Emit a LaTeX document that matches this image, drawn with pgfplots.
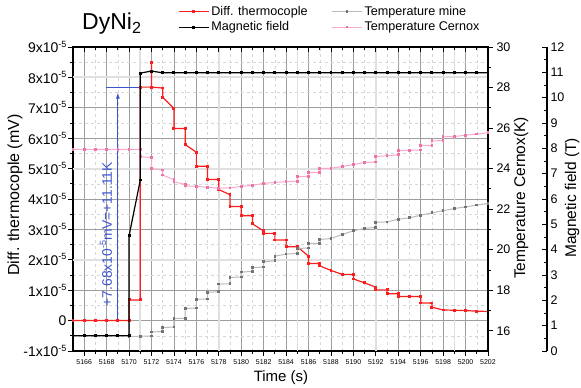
\documentclass[border=0pt]{standalone}
\usepackage{pgfplots}
\pgfplotsset{compat=1.18}
\usetikzlibrary{arrows.meta}
\usepackage{fontspec}
\setmainfont{Liberation Sans}
\definecolor{dred}{RGB}{250,30,30}
\definecolor{pinkl}{RGB}{247,170,203}
\definecolor{pinkm}{RGB}{238,115,168}
\definecolor{grayl}{RGB}{185,185,185}
\definecolor{graym}{RGB}{115,115,115}
\definecolor{annblue}{RGB}{60,85,205}
\newcommand\esup[1]{\raisebox{0.42em}{\fontsize{9}{9}\selectfont #1}}
\pgfplotsset{
  base/.style={scale only axis, width=415pt, height=304pt, xmin=5165, xmax=5202,
    /pgf/number format/assume math mode=true, /pgf/number format/1000 sep={},
    axis line style={line width=1.1pt},
    major tick length=5pt, minor tick length=3pt,
    every tick/.append style={black, line width=0.8pt},
  },
}
\begin{document}
\begin{tikzpicture}
% ---------- main axis (left scale, grid, red) ----------
\begin{axis}[base, ymin=-1, ymax=9,
  tick align=outside, xtick pos=left, ytick pos=left,
  xtick={5166,5168,...,5202}, minor x tick num=1,
  ytick={-1,0,...,9}, minor y tick num=1,
  yticklabels={{-1x10\esup{-5}},{0},{1x10\esup{-5}},{2x10\esup{-5}},{3x10\esup{-5}},{4x10\esup{-5}},{5x10\esup{-5}},{6x10\esup{-5}},{7x10\esup{-5}},{8x10\esup{-5}},{9x10\esup{-5}}},
  yticklabel style={font=\fontsize{14}{16}\selectfont, xshift=2pt},
  xticklabel style={font=\fontsize{7}{8}\selectfont},
  grid=both,
  major grid style={line width=0.6pt, black!38},
  minor grid style={line width=0.5pt, dashed, black!16},
  legend columns=2,
  legend style={draw=none, fill=none, at={(102pt,349pt)}, anchor=north west,
    font=\fontsize{12.6}{14}\selectfont, row sep=1pt,
    /tikz/every even column/.append style={column sep=22pt}},
  legend cell align=left,
  legend image code/.code={\draw[mark repeat=2,mark phase=2,#1] plot coordinates {(0pt,0pt)(15pt,0pt)(30pt,0pt)};},
]
\draw[black!12, line width=2pt] (axis cs:5165,2) -- (axis cs:5202,2);
\draw[black!12, line width=2pt] (axis cs:5165,5) -- (axis cs:5202,5);
\draw[black!12, line width=2pt] (axis cs:5165,8) -- (axis cs:5202,8);
\draw[black!12, line width=1.6pt] (axis cs:5171,-1) -- (axis cs:5171,9);
\draw[black!12, line width=1.6pt] (axis cs:5178,-1) -- (axis cs:5178,9);
\draw[black!12, line width=1.6pt] (axis cs:5185,-1) -- (axis cs:5185,9);
\draw[black!12, line width=1.6pt] (axis cs:5192,-1) -- (axis cs:5192,9);
\draw[black!12, line width=1.6pt] (axis cs:5199,-1) -- (axis cs:5199,9);
% annotation
\draw[annblue, line width=1pt] (axis cs:5167.9,7.68) -- (axis cs:5171,7.68);
\draw[annblue, line width=0.9pt, -{Latex[length=6pt,width=4pt]}] (axis cs:5169,0) -- (axis cs:5169,7.5);
\node[annblue, rotate=90, font=\fontsize{13.8}{15}\selectfont] at (axis cs:5167.94,2.84) {+7.68x10\esup{-5}mV=+11.11K};
\addplot[dred, line width=1.2pt, mark=square*, mark size=0.85pt, mark options={solid, fill=dred}] coordinates {
(5165,0) (5166,0) (5167,0) (5168,0) (5169,0) (5170,0) (5170,0.68) (5171,0.68) (5171,7.68)
(5172,7.68) (5172,8.5) (5172,7.68) (5173,7.65) (5173,7.35) (5174,6.98) (5174,6.32) (5175,6.32)
(5175,5.79) (5176,5.54) (5176,5.08) (5177,5.08) (5177,4.64) (5178,4.64) (5178,4.31) (5179,4.14)
(5179,3.75) (5180,3.75) (5180,3.45) (5181,3.45) (5181,3.18) (5182,2.95) (5182,2.87) (5183,2.87)
(5183,2.65) (5184,2.65) (5184,2.43) (5185,2.43) (5186,2.12) (5186,1.88) (5187,1.88) (5187,1.80)
(5188,1.65) (5189,1.52) (5190,1.52) (5190,1.37) (5191,1.24) (5192,1.10) (5192,1.01) (5193,1.01)
(5193,0.88) (5194,0.88) (5194,0.79) (5195,0.79) (5196,0.79) (5196,0.58) (5197,0.58) (5197,0.44)
(5198,0.35) (5199,0.34) (5200,0.33) (5201,0.31) (5202,0.30)};
\addlegendentry{Diff. thermocople}
\addlegendimage{grayl, line width=1pt, mark=square*, mark size=0.85pt, mark options={graym, fill=graym}}
\addlegendentry{Temperature mine}
\addlegendimage{black, line width=1.2pt, mark=square*, mark size=0.85pt}
\addlegendentry{Magnetic field}
\addlegendimage{pinkl, line width=1pt, mark=square*, mark size=0.85pt, mark options={pinkm, fill=pinkm}}
\addlegendentry{Temperature Cernox}
\end{axis}
% ---------- top ticks ----------
\begin{axis}[base, ymin=0, ymax=1, hide y axis, axis x line*=top, tick align=inside,
  xtick={5166,5168,...,5202}, minor x tick num=1, xticklabels={}]
\end{axis}
% ---------- temperature axis ----------
\begin{axis}[base, ymin=15, ymax=30, hide x axis, axis y line*=right, tick align=outside,
  ytick={16,18,...,30}, minor y tick num=1,
  yticklabel style={font=\fontsize{12.5}{14}\selectfont}]
\addplot[grayl, line width=1pt, mark=square*, mark size=0.85pt, mark options={graym, fill=graym}] coordinates {
(5170,15.72) (5171,15.73) (5172,15.74) (5172,15.94) (5173,15.96) (5173,16.16) (5174,16.18) (5174,16.6)
(5175,16.62) (5175,17.1) (5176,17.12) (5176,17.55) (5177,17.57) (5177,17.9) (5178,17.92) (5178,18.3)
(5179,18.32) (5179,18.63) (5180,18.65) (5180,18.9) (5181,18.92) (5181,19.12) (5182,19.14) (5182,19.4)
(5183,19.45) (5183,19.68) (5184,19.78) (5185,19.82) (5185,20.06) (5186,20.08) (5186,20.3) (5187,20.32)
(5187,20.5) (5188,20.55) (5189,20.75) (5190,20.93) (5191,21.05) (5192,21.1) (5192,21.35) (5193,21.37)
(5194,21.5) (5195,21.57) (5196,21.7) (5197,21.82) (5198,21.92) (5199,22.03) (5200,22.11) (5201,22.2)
(5202,22.28)};
\addplot[pinkl, line width=1pt, mark=square*, mark size=0.85pt, mark options={pinkm, fill=pinkm}] coordinates {
(5165,24.95) (5166,24.95) (5167,24.95) (5168,24.95) (5169,24.95) (5170,24.95) (5171,24.95) (5171,24.58)
(5172,24.55) (5172,24.01) (5173,23.93) (5173,23.68) (5174,23.45) (5174,23.35) (5175,23.22) (5175,23.15)
(5176,23.12) (5177,23.08) (5178,23.03) (5179,23.05) (5180,23.12) (5181,23.18) (5182,23.27) (5183,23.32)
(5184,23.35) (5185,23.38) (5185,23.6) (5186,23.62) (5186,23.8) (5187,23.82) (5187,24.0) (5188,24.02)
(5189,24.1) (5190,24.2) (5191,24.3) (5192,24.32) (5192,24.6) (5193,24.63) (5194,24.68) (5194,24.88)
(5195,24.9) (5196,24.92) (5196,25.15) (5197,25.15) (5197,25.37) (5198,25.38) (5198,25.57) (5199,25.58)
(5200,25.65) (5201,25.7) (5202,25.77)};
\end{axis}
% ---------- magnetic field data ----------
\begin{axis}[base, ymin=0, ymax=12, hide x axis, hide y axis]
\addplot[black, line width=1.2pt, mark=square*, mark size=0.85pt] coordinates {
(5165,0.6) (5166,0.6) (5167,0.6) (5168,0.6) (5169,0.6) (5170,0.6) (5170,4.55) (5171,6.75) (5171,10.97)
(5172,11.05) (5173,10.98) (5174,10.98) (5175,10.98) (5176,10.98) (5177,10.98) (5178,10.98) (5179,10.98)
(5180,10.98) (5181,10.98) (5182,10.98) (5183,10.98) (5184,10.98) (5185,10.98) (5186,10.98) (5187,10.98)
(5188,10.98) (5189,10.98) (5190,10.98) (5191,10.98) (5192,10.98) (5193,10.98) (5194,10.98) (5195,10.98)
(5196,10.98) (5197,10.98) (5198,10.98) (5199,10.98) (5200,10.98) (5201,10.98) (5202,10.98)};
\end{axis}
% ---------- magnetic field scale ----------
\begin{axis}[scale only axis, width=1pt, height=304pt, at={(473pt,0pt)}, xmin=0, xmax=1, ymin=0, ymax=12,
  hide x axis, axis y line*=right, tick align=inside,
  axis line style={line width=1.1pt},
  major tick length=5pt, minor tick length=3pt,
  every tick/.append style={black, line width=0.8pt},
  /pgf/number format/assume math mode=true,
  ytick={0,...,12}, minor y tick num=1,
  yticklabel style={font=\fontsize{12.5}{14}\selectfont}]
\end{axis}
% ---------- labels ----------
\node[rotate=90, font=\fontsize{16}{18}\selectfont] at (-58pt,156pt) {Diff. thermocople (mV)};
\node[font=\fontsize{15}{17}\selectfont] at (208pt,-27pt) {Time (s)};
\node[rotate=90, font=\fontsize{15.5}{17}\selectfont] at (448pt,153pt) {Temperature Cernox(K)};
\node[rotate=90, font=\fontsize{15.5}{17}\selectfont] at (499pt,153pt) {Magnetic field (T)};
\node[anchor=base west, font=\fontsize{23}{25}\selectfont, inner sep=0pt] at (9pt,321pt) {DyNi\textsubscript{2}};
\pgfresetboundingbox
\path[use as bounding box] (-73pt,-37pt) rectangle (508pt,351pt);
\end{tikzpicture}
\end{document}
